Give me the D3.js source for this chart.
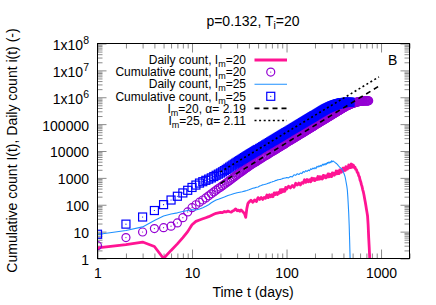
<!DOCTYPE html>
<html>
<head>
<meta charset="utf-8">
<script src="https://cdn.jsdelivr.net/npm/d3@7/dist/d3.min.js"></script>
<style>
  body { margin: 0; background: #fff; }
  svg text { font-family: 'Liberation Sans', Arial, Helvetica, sans-serif; }
</style>
</head>
<body>
<div id="chart"></div>
<script>
// Daily count, I_m=20 (days and values)
const dailyDays20 = [1,2,3,4,5,6,7,8,9,10,11,12,13,14,15,16,17,18,19,20,21,22,23,24,25,26,27,28,29,30,31,32,33,34,35,36,37,38,39,40,
  42,44,46,48,50,52,54,56,58,60,62,64,66,68,70,72,74,76,78,80,82,84,86,88,90,92,94,96,98,100,
  105,110,115,120,125,130,135,140,145,150,155,160,165,170,175,180,185,190,195,200,205,210,215,220,225,230,235,240,245,250,
  255,260,265,270,275,280,285,290,295,300,305,310,315,320,325,330,335,340,345,350,355,360,365,370,375,380,385,390,395,400,
  405,410,415,420,425,430,435,440,445,450,455,460,465,470,475,480,485,490,495,500,
  510,520,530,540,550,560,570,580,590,600,610,620,630,640,650,660,670,680,690,700,710,720,730,740,750,760,770];
const daily20 = [2.5,3.3,4.1,2.8,1.0,2.0,3.5,6,10,18,24,27,30,33,36,40,44,48,50,52,51,56,54,58,55,53,59,63,70,60,63,57,64,58,52,46,34,72,110,125,
  146,123,152,131,184,158,186,157,188,175,232,184,236,196,236,200,278,238,281,238,287,270,360,285,370,309,375,319,443,380,
  487,423,520,447,627,542,643,546,668,635,856,684,871,716,853,714,975,822,953,792,936,861,1127,878,1114,914,1087,907,1240,1045,
  1207,1000,1178,1081,1410,1094,1383,1130,1342,1118,1530,1292,1501,1250,1484,1371,1800,1404,1770,1440,1722,1445,1978,1672,1944,1619,1918,1766,2313,1800,
  2296,1890,2258,1892,2588,2185,2538,2112,2499,2300,3009,2340,2968,2430,2888,2408,3278,2755,3132,2508,
  2950,2450,2500,2050,2000,1600,1550,1200,1100,820,720,560,470,360,300,230,170,130,95,70,52,38,18,6,2.5,0.9,0.3];

// Daily count, I_m=25
const dailyDays25 = [1,2,3,4,5,6,7,8,9,10,11,12,13,14,15,16,17,18,19,20,
  22,24,26,28,30,32,34,36,38,40,42,44,46,48,50,52,54,56,58,60,62,64,66,68,70,72,74,76,78,80,82,84,86,88,90,92,94,96,98,100,
  105,110,115,120,125,130,135,140,145,150,155,160,165,170,175,180,185,190,195,200,205,210,215,220,225,230,235,240,245,250,
  255,260,265,270,275,280,285,290,295,300,305,310,315,320,325,330,335,340,345,350,355,360,365,370,375,380,385,390,395,400,
  405,410,415,420,425,430,435,440,445,450,455,460,465,470,475];
const daily25 = [7.8,11,15,26,38,45,50,56,61,65,64,70,78,88,100,118,135,150,160,172,
  195,222,240,262,280,292,305,322,340,360,385,410,425,450,460,495,520,550,565,582,600,630,650,690,700,730,750,790,805,840,850,865,870,905,920,960,965,985,990,1030,
  998,1123,1086,1300,1242,1431,1330,1514,1443,1712,1620,1855,1729,1957,1852,2194,2056,2332,2166,2421,2209,2686,2512,2830,2613,2915,2735,3210,2988,3350,
  3002,3430,3205,3745,3473,3890,3572,3966,3704,4312,3977,4200,4150,3950,3800,3600,3500,3350,3150,3000,2800,2650,2500,2400,2300,2250,2150,1950,1800,1600,
  1450,1300,1150,950,750,600,470,350,200,100,47,18,5,1.2,0.3];

// Cumulative counts (shared day list; I_m=25 stops earlier)
const cumDays = [1,2,3,4,5,6,7,8,9,10,11,12,13,14,15,16,17,18,19,20,21,22,23,24,25,26,27,28,29,30,31,32,33,34,35,36,37,38,39,40,41,42,43,44,45,46,47,48,49,50,
  52,54,56,58,60,62,64,66,68,70,72,74,76,78,80,82,84,86,88,90,92,94,96,98,100,
  103,106,109,112,115,118,121,124,127,130,133,136,139,142,145,148,151,154,157,160,163,166,169,172,175,178,181,184,187,190,193,196,199,
  205,210,215,220,225,230,235,240,245,250,255,260,265,270,275,280,285,290,295,300,305,310,315,320,325,330,335,340,345,350,355,360,365,370,375,380,385,390,395,400,
  410,420,430,440,450,460,470,480,490,500,510,520,530,540,550,560,570,580,590,600,610,620,630,640,650,660,670,680,690,700,710,720,730,740];
const cum20 = [3,6,9.7,13,14,16,21,33,54,78,100,125,150,180,215,255,300,350,400,450,510,575,645,720,800,890,985,1085,1190,1300,
  1420,1550,1670,1800,1940,2080,2230,2380,2540,2720,2900,3060,3230,3400,3570,3740,3920,4100,4290,4480,
  4880,5290,5730,6180,6650,7140,7650,8180,8720,9290,9870,10470,11100,11740,12400,13080,13790,14500,15240,16000,16790,17590,18410,19240,20110,
  21430,22820,24230,25700,27210,28770,30390,32030,33730,35470,37270,39100,41000,42950,44950,46990,49070,51200,53390,55630,
  57920,60240,62630,65050,67500,70040,72630,75250,77910,80700,83480,86310,89200,
  95120,100200,105400,110800,116400,122000,127900,133800,139900,146200,152600,159200,165800,172700,179700,186900,194100,201600,209200,216900,
  224800,232900,241100,249400,258000,266600,275400,284400,293400,302900,312200,321900,331700,341600,351600,361900,372300,382800,393500,404400,
  420000,440000,460000,478000,497000,515000,533000,550000,568000,585000,600000,615000,628000,640000,652000,663000,673000,682000,690000,697000,
  704000,710000,715000,719000,723000,726000,728000,730000,731000,732000,733000,733500,734000,734000];
const cum25 = [8,19,35,61,101,150,207,275,345,440,540,640,720,810,900,1000,1120,1250,1380,1520,1680,1860,2060,2280,2510,2750,3000,3260,3530,3810,
  4100,4400,4700,5020,5350,5690,6040,6400,6770,7150,7540,7930,8340,8750,9180,9610,10060,10510,10980,11460,
  12450,13480,14550,15670,16840,18040,19290,20570,21910,23290,24720,26190,27710,29280,30870,32520,34220,35960,37760,39580,41480,43380,45370,47370,49430,
  52600,55900,59280,62790,66370,70090,73900,77800,81830,85960,90230,94540,99000,103500,108200,113000,117900,122800,128000,133200,
  138600,144000,149500,155100,160900,166800,172800,178900,185000,191400,197800,204400,211000,
  224700,236300,248300,260700,273500,286300,299800,313200,327200,341400,355900,368000,381000,393000,405000,418000,430000,442000,455000,467000,
  478000,489000,500000,510000,520000,530000,539000,548000,557000,565000,573000,580000,587000,594000,600000,606000,612000,617000,622000,627000,
  636000,643000,648000,652000,654000,655000,655500];

// Power-law fits (end points of the drawn straight lines)
const fitDays = [20, 950];
const fit20 = [620, 2.6e6];
const fit25 = [1670, 5.7e6];

const xTickVals = [1, 10, 100, 1000];
const xTickLabels = ['1', '10', '100', '1000'];
const yTickVals = [1, 10, 100, 1000, 1e4, 1e5, 1e6, 1e7, 1e8];
const yTickLabels = ['1', '10', '100', '1000', '10000', '100000', '1x10^6', '1x10^7', '1x10^8'];

// legend: text before subscript, subscript, text after
const legendLabels = [
  ['Daily count, I', 'm', '=20'],
  ['Cumulative count, I', 'm', '=20'],
  ['Daily count, I', 'm', '=25'],
  ['Cumulative count, I', 'm', '=25'],
  ['I', 'm', '=20, \u03b1= 2.19'],
  ['I', 'm', '=25, \u03b1= 2.11']
];

const W = 436, H = 305;
const pink = '#ff1493', sky = '#1e90ff', violet = '#9400d3', blue = '#0000ff';

const svg = d3.select('#chart').append('svg')
    .attr('width', W)
    .attr('height', H);
svg.append('rect').attr('width', W).attr('height', H).attr('fill', '#fff');

const x = d3.scaleLog().domain([1, 2000]).range([97.5, 409.5]);
const y = d3.scaleLog().domain([1, 1e8]).range([258.5, 43.5]);

const isMajor = v => Math.abs(Math.log10(v) - Math.round(Math.log10(v))) < 1e-9;
const minorX = x.ticks().filter(v => !isMajor(v));
const minorY = y.ticks().filter(v => !isMajor(v));

// ticks on all four sides, pointing inwards
function ticks(axis, vals, len) {
  return axis.tickValues(vals).tickSizeInner(-len).tickSizeOuter(0).tickFormat('');
}
const tickLayers = [
  [d3.axisBottom(x), 'translate(0,258.5)'], [d3.axisTop(x), 'translate(0,43.5)'],
  [d3.axisLeft(y), 'translate(97.5,0)'], [d3.axisRight(y), 'translate(409.5,0)']
];
tickLayers.forEach(function(l, i) {
  const horiz = i < 2;
  [[horiz ? minorX : minorY, 5], [horiz ? xTickVals : yTickVals, 9]].forEach(function(s) {
    const g = svg.append('g').attr('transform', l[1]).call(ticks(l[0], s[0], s[1]));
    g.select('.domain').remove();
    g.selectAll('line').attr('stroke', '#8a8a8a');
  });
});

// tick labels
const xLab = svg.append('g').attr('transform', 'translate(0,258.5)')
    .call(d3.axisBottom(x).tickValues(xTickVals).tickSize(0).tickPadding(9.5)
      .tickFormat((d, i) => xTickLabels[i]));
xLab.select('.domain').remove();
xLab.selectAll('text').attr('font-size', 14).attr('fill', '#000')
    .attr('font-family', "'Liberation Sans', Arial, sans-serif");

const yLab = svg.append('g').attr('transform', 'translate(97.5,0)')
    .call(d3.axisLeft(y).tickValues(yTickVals).tickSize(0).tickPadding(8.5)
      .tickFormat((d, i) => yTickLabels[i]));
yLab.select('.domain').remove();
yLab.selectAll('text').attr('font-size', 14).attr('fill', '#000').attr('dy', '0.42em')
    .attr('font-family', "'Liberation Sans', Arial, sans-serif")
    .each(function(d, i) {
      const parts = yTickLabels[i].split('^');
      const t = d3.select(this).text(null);
      t.append('tspan').text(parts[0]);
      if (parts[1]) t.append('tspan').attr('dy', -6).attr('font-size', 10.5).text(parts[1]);
    });

// data layer
svg.append('clipPath').attr('id', 'clip')
  .append('rect').attr('x', 97.5).attr('y', 43.5).attr('width', 312).attr('height', 215);
const plot = svg.append('g').attr('clip-path', 'url(#clip)');

const line = d3.line().x(d => x(d[0])).y(d => y(Math.max(d[1], 1e-3)));
const pts = (days, vals) => vals.map((v, i) => [days[i], v]);

plot.append('path').datum(pts(dailyDays20, daily20))
    .attr('d', line).attr('fill', 'none').attr('stroke', pink)
    .attr('stroke-width', 2.8).attr('stroke-linejoin', 'round');

function circles(data, color) {
  const g = plot.append('g');
  g.selectAll('circle.m').data(data).join('circle').attr('class', 'm')
      .attr('cx', d => x(d[0])).attr('cy', d => y(d[1])).attr('r', 4)
      .attr('fill', 'none').attr('stroke', color).attr('stroke-width', 1.2);
  g.selectAll('circle.c').data(data).join('circle').attr('class', 'c')
      .attr('cx', d => x(d[0])).attr('cy', d => y(d[1])).attr('r', 0.6).attr('fill', color);
}
function squares(data, color) {
  const g = plot.append('g');
  g.selectAll('rect.m').data(data).join('rect').attr('class', 'm')
      .attr('x', d => x(d[0]) - 4).attr('y', d => y(d[1]) - 4)
      .attr('width', 8).attr('height', 8)
      .attr('fill', 'none').attr('stroke', color).attr('stroke-width', 1.2);
  g.selectAll('circle.c').data(data).join('circle').attr('class', 'c')
      .attr('cx', d => x(d[0])).attr('cy', d => y(d[1])).attr('r', 0.6).attr('fill', color);
}

circles(pts(cumDays, cum20), violet);

plot.append('path').datum(pts(dailyDays25, daily25))
    .attr('d', line).attr('fill', 'none').attr('stroke', sky)
    .attr('stroke-width', 1.1).attr('stroke-linejoin', 'round');

squares(pts(cumDays, cum25), blue);

plot.append('path').datum(pts(fitDays, fit20))
    .attr('d', line).attr('fill', 'none').attr('stroke', '#000')
    .attr('stroke-width', 1.6).attr('stroke-dasharray', '5,4');
plot.append('path').datum(pts(fitDays, fit25))
    .attr('d', line).attr('fill', 'none').attr('stroke', '#000')
    .attr('stroke-width', 1.6).attr('stroke-dasharray', '2,2.6');

// frame
svg.append('rect').attr('x', 97.5).attr('y', 43.5).attr('width', 312).attr('height', 215)
    .attr('fill', 'none').attr('stroke', '#000').attr('stroke-width', 1);

// legend
const legend = svg.append('g');
legendLabels.forEach(function(lab, i) {
  const cy = 60 + 12.1 * i;
  const t = legend.append('text').attr('x', 246).attr('y', cy + 4.2)
      .attr('text-anchor', 'end').attr('font-size', 12);
  t.append('tspan').text(lab[0]);
  t.append('tspan').attr('dy', 3).attr('font-size', 9).text(lab[1]);
  t.append('tspan').attr('dy', -3).text(lab[2]);

  const x0 = 254.5, x1 = 287, xm = (x0 + x1) / 2;
  if (i === 0 || i === 2 || i >= 4) {
    const ln = legend.append('line').attr('x1', x0).attr('x2', x1).attr('y1', cy).attr('y2', cy)
        .attr('stroke', i === 0 ? pink : i === 2 ? sky : '#000')
        .attr('stroke-width', i === 0 ? 2.8 : i === 2 ? 1.1 : 1.6);
    if (i === 4) ln.attr('stroke-dasharray', '5,4');
    if (i === 5) ln.attr('stroke-dasharray', '2,2.6');
  } else if (i === 1) {
    legend.append('circle').attr('cx', xm).attr('cy', cy).attr('r', 4)
        .attr('fill', 'none').attr('stroke', violet).attr('stroke-width', 1.2);
    legend.append('circle').attr('cx', xm).attr('cy', cy).attr('r', 0.6).attr('fill', violet);
  } else {
    legend.append('rect').attr('x', xm - 4).attr('y', cy - 4).attr('width', 8).attr('height', 8)
        .attr('fill', 'none').attr('stroke', blue).attr('stroke-width', 1.2);
    legend.append('circle').attr('cx', xm).attr('cy', cy).attr('r', 0.6).attr('fill', blue);
  }
});

// panel letter, titles
svg.append('text').attr('x', 388).attr('y', 65).attr('font-size', 14).text('B');

const title = svg.append('text').attr('x', 253).attr('y', 25.5)
    .attr('text-anchor', 'middle').attr('font-size', 14);
title.append('tspan').text('p=0.132, T');
title.append('tspan').attr('dy', 3).attr('font-size', 10.5).text('i');
title.append('tspan').attr('dy', -3).text('=20');

svg.append('text').attr('x', 253).attr('y', 297)
    .attr('text-anchor', 'middle').attr('font-size', 14).text('Time t (days)');

svg.append('text').attr('transform', 'translate(17,150.5) rotate(-90)')
    .attr('text-anchor', 'middle').attr('font-size', 14)
    .text('Cumulative count I(t), Daily count i(t) (-)');
</script>
</body>
</html>
